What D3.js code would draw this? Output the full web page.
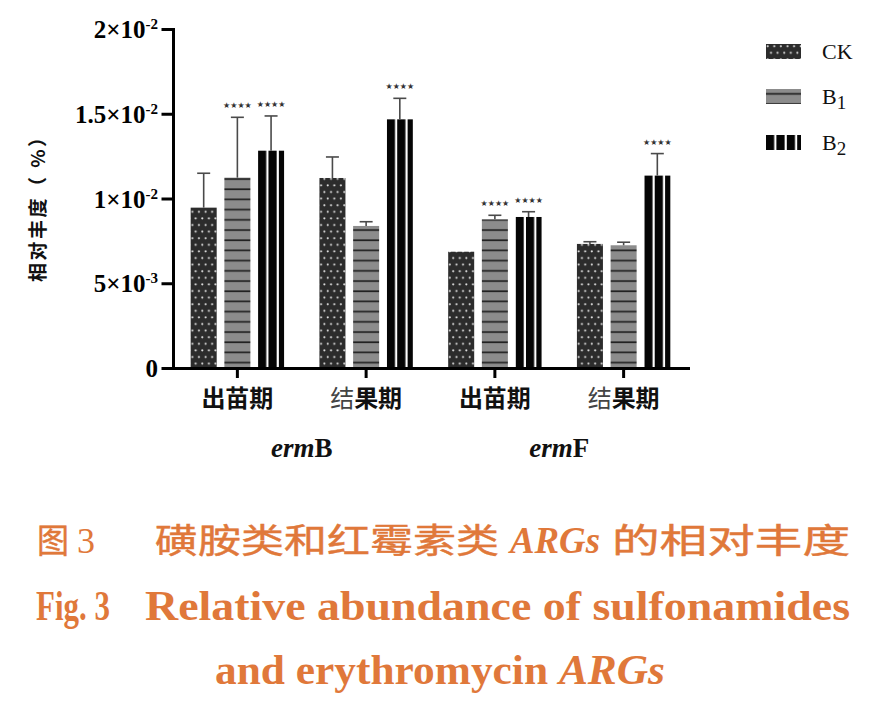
<!DOCTYPE html>
<html><head><meta charset="utf-8">
<script src="https://cdn.jsdelivr.net/npm/d3@7/dist/d3.min.js"></script>
<style>body{margin:0;background:#fff}</style>
</head><body>
<svg id="c" width="884" height="709"></svg>
<script>
// ---------- data ----------
const categories = ["ermB-出苗期", "ermB-结果期", "ermF-出苗期", "ermF-结果期"];
const stageLabels = ["出苗期", "结果期", "出苗期", "结果期"];
const genes = ["erm", "erm"];
const geneSuffix = ["B", "F"];
const series = ["CK", "B1", "B2"];
const ckMean = [0.00946, 0.01121, 0.00686, 0.00732];
const ckErr  = [0.00203, 0.00124, 0.0, 0.00013];
const b1Mean = [0.01123, 0.00838, 0.00877, 0.00724];
const b1Err  = [0.00356, 0.00025, 0.00024, 0.00018];
const b2Mean = [0.01282, 0.01467, 0.00891, 0.01135];
const b2Err  = [0.00205, 0.00124, 0.00031, 0.00130];
const ckSig = ["", "", "", ""];
const b1Sig = ["★★★★", "", "★★★★", ""];
const b2Sig = ["★★★★", "★★★★", "★★★★", "★★★★"];
const yTicks = [0, 0.005, 0.01, 0.015, 0.02];
const yTickLabels = ["0", "5×10^-3", "1×10^-2", "1.5×10^-2", "2×10^-2"];
const yTitle = "相对丰度（ %）";
const captionCN = ["图", "3", "磺胺类和红霉素类", "ARGs", "的相对丰度"];
const captionEN1 = ["Fig. 3", "Relative abundance of sulfonamides"];
const captionEN2 = ["and erythromycin ", "ARGs"];

const means = {CK: ckMean, B1: b1Mean, B2: b2Mean};
const errs = {CK: ckErr, B1: b1Err, B2: b2Err};
const sigs = {CK: ckSig, B1: b1Sig, B2: b2Sig};

// ---------- scales ----------
const svg = d3.select("#c");
svg.append("rect").attr("width", 884).attr("height", 709).attr("fill", "#fff");
const y = d3.scaleLinear().domain([0, 0.02]).range([368, 29]);
const x = d3.scaleBand().domain(categories).range([173, 688]).padding(0);
const inner = d3.scaleBand().domain(series).range([-46.7, 46.7]).paddingInner(0.228).paddingOuter(0);

// ---------- patterns ----------
const defs = svg.append("defs");
const pCK = defs.append("pattern").attr("id", "pCK").attr("patternUnits", "userSpaceOnUse")
  .attr("width", 6.6).attr("height", 13.2);
pCK.append("rect").attr("width", 6.6).attr("height", 13.2).attr("fill", "#2c2c2c");
pCK.append("circle").attr("cx", 1.7).attr("cy", 2.2).attr("r", 1.05).attr("fill", "#e4e4e4");
pCK.append("circle").attr("cx", 5.0).attr("cy", 8.8).attr("r", 1.05).attr("fill", "#e4e4e4");

const pB1 = defs.append("pattern").attr("id", "pB1").attr("patternUnits", "userSpaceOnUse")
  .attr("width", 10).attr("height", 10.2);
pB1.append("rect").attr("width", 10).attr("height", 10.2).attr("fill", "#8c8c8c");
pB1.append("rect").attr("y", 4).attr("width", 10).attr("height", 1.7).attr("fill", "#222");

const pB2 = defs.append("pattern").attr("id", "pB2").attr("patternUnits", "userSpaceOnUse")
  .attr("width", 10.4).attr("height", 10);
pB2.append("rect").attr("width", 10.4).attr("height", 10).attr("fill", "#050505");
pB2.append("rect").attr("x", 8.2).attr("width", 2.2).attr("height", 10).attr("fill", "#fff");

const fills = {CK: "url(#pCK)", B1: "url(#pB1)", B2: "url(#pB2)"};

// ---------- bars ----------
const barData = [];
categories.forEach((c, i) => series.forEach(s => barData.push({c, i, s, v: means[s][i], e: errs[s][i], sig: sigs[s][i]})));

const bw = inner.bandwidth();
const bars = svg.append("g").selectAll("g.bar").data(barData).join("g")
  .attr("class", "bar")
  .attr("transform", d => `translate(${x(d.c) + x.bandwidth() / 2 + inner(d.s)},${y(0)})`);
bars.append("rect")
  .attr("x", 0).attr("y", d => y(d.v) - y(0))
  .attr("width", bw).attr("height", d => y(0) - y(d.v))
  .attr("fill", d => fills[d.s]);

// error bars
const eb = svg.append("g").attr("stroke", "#4a4a4a").attr("stroke-width", 1.6);
barData.filter(d => d.e > 0).forEach(d => {
  const cx = x(d.c) + x.bandwidth() / 2 + inner(d.s) + bw / 2;
  eb.append("line").attr("x1", cx).attr("x2", cx).attr("y1", y(d.v)).attr("y2", y(d.v + d.e));
  eb.append("line").attr("x1", cx - 6.5).attr("x2", cx + 6.5).attr("y1", y(d.v + d.e)).attr("y2", y(d.v + d.e));
});

// significance stars
svg.append("g").selectAll("text").data(barData.filter(d => d.sig)).join("text")
  .attr("x", d => x(d.c) + x.bandwidth() / 2 + inner(d.s) + bw / 2)
  .attr("y", d => y(d.v + d.e) - 9)
  .attr("text-anchor", "middle")
  .attr("font-family", "DejaVu Sans")
  .attr("font-size", 8)
  .attr("fill", "#333")
  .text(d => d.sig);

// ---------- axes ----------
const yAxis = d3.axisLeft(y).tickValues(yTicks).tickSize(10).tickSizeOuter(0).tickFormat("");
const gy = svg.append("g").attr("transform", `translate(${x.range()[0]},0)`).call(yAxis);
gy.selectAll("path,line").attr("stroke", "#000").attr("stroke-width", 3).attr("stroke-linecap", "square");
gy.selectAll(".tick").each(function (d, i) {
  const parts = yTickLabels[i].split("^");
  const t = d3.select(this).append("text")
    .attr("x", -15).attr("y", 0).attr("dy", "0.34em")
    .attr("text-anchor", "end")
    .attr("fill", "#000")
    .attr("font-family", "Liberation Serif, Times New Roman, serif")
    .attr("font-weight", "bold").attr("font-size", 25);
  t.append("tspan").text(parts[0]);
  if (parts[1]) t.append("tspan").attr("font-size", 15).attr("dy", "-0.6em").text(parts[1]);
});

const xAxis = d3.axisBottom(x).tickSize(10).tickSizeOuter(0).tickFormat("");
const gx = svg.append("g").attr("transform", `translate(0,${y(0)})`).call(xAxis);
gx.selectAll("path,line").attr("stroke", "#000").attr("stroke-width", 3);
gx.select("path").attr("stroke-linecap", "square");

// category labels
categories.forEach((c, i) => {
  const t = svg.append("text")
    .attr("x", x(c) + x.bandwidth() / 2).attr("y", 407)
    .attr("text-anchor", "middle")
    .attr("font-family", "Noto Sans CJK SC")
    .attr("font-size", 24).attr("fill", "#111");
  const lab = stageLabels[i];
  if (lab === "结果期") {
    t.append("tspan").attr("font-weight", "normal").attr("fill", "#444").text(lab[0]);
    t.append("tspan").attr("font-weight", "bold").text(lab.slice(1));
  } else {
    t.append("tspan").attr("font-weight", "bold").text(lab);
  }
});

// gene labels
genes.forEach((g, k) => {
  const cx = (x(categories[2 * k]) + x(categories[2 * k + 1]) + x.bandwidth()) / 2;
  const t = svg.append("text").attr("x", cx).attr("y", 457)
    .attr("text-anchor", "middle")
    .attr("font-family", "Liberation Serif, Times New Roman, serif")
    .attr("font-weight", "bold").attr("font-size", 27).attr("fill", "#111");
  t.append("tspan").attr("font-style", "italic").text(g);
  t.append("tspan").text(geneSuffix[k]);
});

// y title
svg.append("text")
  .attr("transform", "translate(45,205) rotate(-90)")
  .attr("text-anchor", "middle")
  .attr("font-family", "Noto Sans CJK SC")
  .attr("font-weight", "bold").attr("font-size", 19).attr("fill", "#111")
  .attr("textLength", 154).attr("lengthAdjust", "spacing")
  .text(yTitle);

// ---------- legend ----------
const lg = svg.append("g");
const legY = [44, 89, 135];
series.forEach((s, k) => {
  const g = lg.append("g").attr("transform", `translate(766,${legY[k]})`);
  g.append("rect").attr("width", 35).attr("height", 15).attr("fill", fills[s]);
  const t = g.append("text").attr("x", 56).attr("y", 15)
    .attr("font-family", "Liberation Serif, Times New Roman, serif")
    .attr("font-size", 22).attr("fill", "#111");
  t.append("tspan").text(s[0] === "C" ? s : s[0]);
  if (s[0] === "B") t.append("tspan").attr("font-size", 19).attr("dy", 5).text(s.slice(1));
});

// ---------- caption ----------
const orange = "#e0783a";
const cap = svg.append("g").attr("fill", orange);
const cnStyle = t => t.attr("font-family", "Noto Sans CJK SC").attr("font-size", 34)
  .attr("stroke", orange).attr("stroke-width", 0.45).attr("lengthAdjust", "spacingAndGlyphs");
cnStyle(cap.append("text").attr("x", 37).attr("y", 553).attr("textLength", 32)).text(captionCN[0]);
cap.append("text").attr("x", 77).attr("y", 553)
  .attr("font-family", "Liberation Serif").attr("font-size", 36).text(captionCN[1]);
cnStyle(cap.append("text").attr("x", 155).attr("y", 553).attr("textLength", 344)).text(captionCN[2]);
cap.append("text").attr("x", 510).attr("y", 553)
  .attr("font-family", "Liberation Serif").attr("font-style", "italic").attr("font-weight", "bold").attr("font-size", 38)
  .attr("textLength", 90).attr("lengthAdjust", "spacingAndGlyphs").text(captionCN[3]);
cnStyle(cap.append("text").attr("x", 612).attr("y", 553).attr("textLength", 238)).text(captionCN[4]);

cap.append("text").attr("x", 36).attr("y", 620)
  .attr("font-family", "Liberation Serif").attr("font-weight", "bold").attr("font-size", 42)
  .attr("textLength", 74).attr("lengthAdjust", "spacingAndGlyphs").text(captionEN1[0]);
cap.append("text").attr("x", 145).attr("y", 620)
  .attr("font-family", "Liberation Serif").attr("font-weight", "bold").attr("font-size", 42)
  .attr("textLength", 705).attr("lengthAdjust", "spacingAndGlyphs").text(captionEN1[1]);
const l3 = cap.append("text").attr("x", 215).attr("y", 684)
  .attr("font-family", "Liberation Serif").attr("font-weight", "bold").attr("font-size", 42)
  .attr("textLength", 450).attr("lengthAdjust", "spacingAndGlyphs");
l3.append("tspan").text(captionEN2[0]);
l3.append("tspan").attr("font-style", "italic").text(captionEN2[1]);
</script>
</body></html>
